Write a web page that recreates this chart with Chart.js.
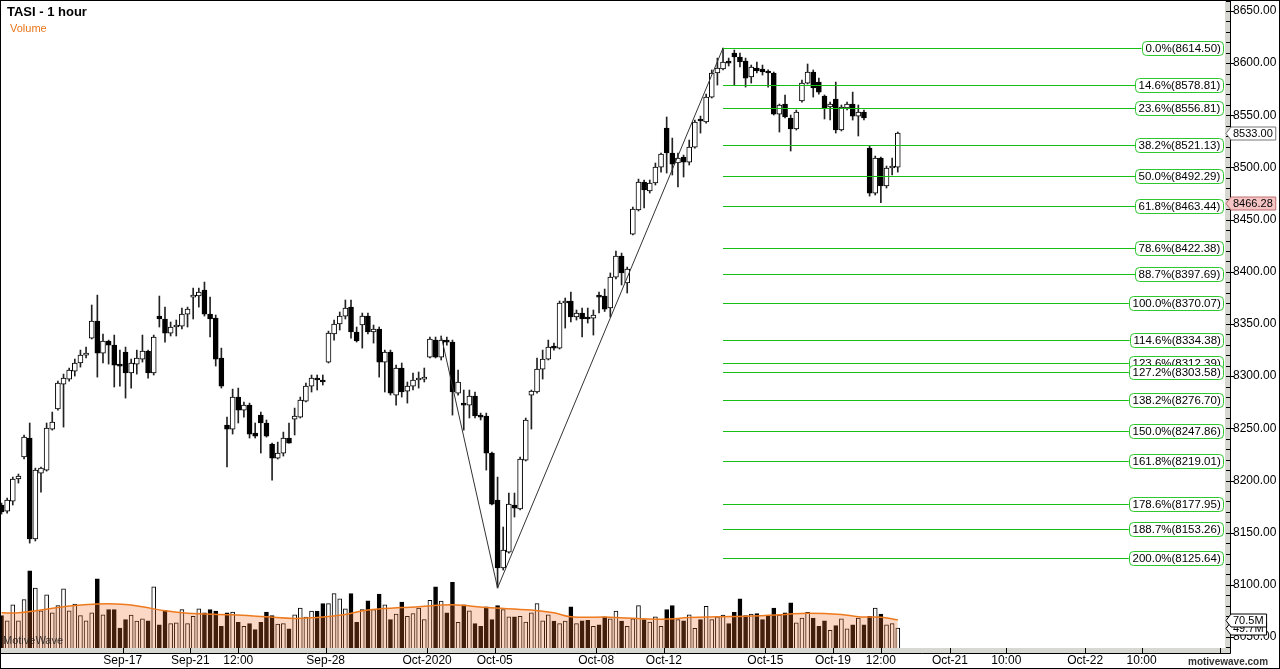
<!DOCTYPE html>
<html>
<head>
<meta charset="utf-8">
<title>TASI - 1 hour</title>
<script src="https://cdn.jsdelivr.net/npm/chart.js@4.4.1/dist/chart.umd.min.js"></script>
<style>
  html, body { margin: 0; padding: 0; background: #fff; }
  canvas { display: block; }
</style>
</head>
<body>
<canvas id="tasiChart" width="1280" height="669"></canvas>
<script>
// hourly bars, Sep-13 12:00 .. Oct-20 15:00 (index = bar number)
const opens = [
  8176.5, 8170.7, 8180.3, 8201.4, 8222.5, 8240.7, 8143.9, 8207.1, 8210.0, 8249.3,
  8268.5, 8292.4, 8297.2, 8304.9, 8312.6, 8320.2, 8336.5, 8352.8, 8322.1, 8333.7,
  8329.8, 8311.6, 8323.1, 8303.0, 8311.6, 8316.4, 8324.1, 8303.0, 8357.6, 8354.8,
  8341.3, 8347.1, 8348.0, 8359.5, 8375.8, 8376.8, 8382.5, 8359.5, 8355.7, 8317.4,
  8253.1, 8249.3, 8280.0, 8267.5, 8272.3, 8245.5, 8262.7, 8255.1, 8234.9, 8221.5,
  8226.3, 8240.7, 8258.9, 8260.8, 8276.1, 8290.5, 8298.2, 8296.3, 8313.5, 8340.4,
  8350.0, 8357.6, 8366.2, 8342.3, 8349.0, 8357.6, 8342.3, 8345.2, 8313.5, 8323.1,
  8281.9, 8307.8, 8285.7, 8290.5, 8296.3, 8297.2, 8318.3, 8334.6, 8318.3, 8334.6,
  8332.7, 8283.8, 8274.2, 8272.3, 8280.9, 8261.8, 8261.8, 8226.3, 8181.3, 8116.1,
  8131.4, 8176.5, 8172.7, 8219.6, 8281.9, 8284.8, 8306.8, 8316.4, 8328.9, 8326.9,
  8370.1, 8372.0, 8356.7, 8360.5, 8355.7, 8355.7, 8376.8, 8376.8, 8365.3, 8395.0,
  8415.2, 8389.3, 8436.2, 8459.3, 8486.1, 8477.5, 8485.1, 8500.4, 8537.8, 8513.9,
  8504.3, 8510.0, 8505.2, 8519.6, 8545.5, 8543.6, 8567.5, 8590.6, 8594.4, 8602.0,
  8609.7, 8605.9, 8602.0, 8586.7, 8595.3, 8594.4, 8591.5, 8590.6, 8551.2, 8560.8,
  8547.4, 8536.9, 8563.7, 8580.9, 8591.5, 8581.9, 8568.5, 8558.0, 8565.6, 8535.9,
  8557.0, 8560.8, 8549.3, 8553.2, 8518.6, 8475.5, 8509.1, 8482.3, 8499.5, 8500.4
];
const highs = [
  8178.4, 8183.2, 8203.3, 8206.2, 8243.5, 8255.1, 8211.9, 8212.9, 8255.1, 8265.6,
  8295.3, 8302.0, 8307.8, 8316.4, 8325.0, 8327.9, 8368.2, 8377.7, 8340.4, 8334.6,
  8339.4, 8325.0, 8327.9, 8316.4, 8325.0, 8339.4, 8325.0, 8339.4, 8376.8, 8366.2,
  8351.9, 8353.8, 8365.3, 8366.2, 8384.4, 8384.4, 8390.2, 8375.8, 8358.6, 8326.9,
  8260.8, 8287.6, 8288.6, 8275.2, 8274.2, 8255.1, 8265.6, 8258.0, 8235.9, 8236.8,
  8246.4, 8255.1, 8269.4, 8280.0, 8293.4, 8301.1, 8301.1, 8301.1, 8343.2, 8353.8,
  8361.5, 8373.0, 8373.0, 8347.1, 8360.5, 8360.5, 8349.0, 8347.1, 8325.0, 8325.0,
  8310.6, 8312.6, 8294.4, 8303.0, 8304.0, 8307.8, 8337.5, 8337.5, 8338.5, 8337.5,
  8334.6, 8305.9, 8286.7, 8286.7, 8284.8, 8264.6, 8264.6, 8227.3, 8203.3, 8155.4,
  8188.0, 8188.0, 8222.5, 8259.9, 8286.7, 8317.4, 8325.0, 8334.6, 8331.7, 8372.0,
  8374.9, 8380.6, 8363.4, 8365.3, 8365.3, 8363.4, 8380.6, 8383.5, 8398.9, 8420.0,
  8418.0, 8404.6, 8462.1, 8488.9, 8488.0, 8488.0, 8504.3, 8513.9, 8548.4, 8528.2,
  8513.9, 8511.9, 8526.3, 8545.5, 8549.3, 8570.4, 8593.5, 8604.9, 8614.5, 8604.9,
  8612.6, 8609.7, 8604.9, 8598.2, 8601.1, 8598.2, 8593.5, 8591.5, 8560.8, 8569.5,
  8550.3, 8555.1, 8583.8, 8599.2, 8593.5, 8585.7, 8569.5, 8562.7, 8581.9, 8559.9,
  8562.7, 8572.3, 8559.9, 8555.1, 8520.6, 8511.0, 8510.0, 8501.4, 8509.1, 8534.0
];
const lows = [
  8167.8, 8168.8, 8176.5, 8197.5, 8220.6, 8140.0, 8142.0, 8188.9, 8209.0, 8248.3,
  8267.5, 8251.2, 8295.3, 8300.1, 8308.7, 8317.4, 8335.6, 8299.1, 8312.6, 8311.6,
  8289.6, 8290.5, 8279.0, 8288.6, 8302.0, 8313.5, 8298.2, 8301.1, 8347.1, 8332.7,
  8338.5, 8338.5, 8345.2, 8347.1, 8354.8, 8366.2, 8357.6, 8337.5, 8309.7, 8288.6,
  8212.9, 8244.5, 8255.1, 8260.8, 8240.7, 8240.7, 8226.3, 8241.6, 8200.4, 8220.6,
  8223.4, 8235.9, 8243.6, 8259.9, 8275.2, 8284.8, 8286.7, 8291.5, 8312.6, 8334.6,
  8344.2, 8354.8, 8336.5, 8332.7, 8326.9, 8340.4, 8331.7, 8299.1, 8284.8, 8281.9,
  8272.3, 8280.0, 8274.2, 8286.7, 8288.6, 8294.4, 8317.4, 8317.4, 8315.5, 8329.8,
  8262.7, 8281.9, 8248.3, 8259.9, 8259.9, 8258.0, 8210.0, 8176.5, 8097.0, 8114.2,
  8130.4, 8165.0, 8171.7, 8218.7, 8249.3, 8283.8, 8297.2, 8315.5, 8325.0, 8326.0,
  8346.1, 8351.9, 8353.8, 8337.5, 8350.9, 8339.4, 8360.5, 8362.0, 8356.7, 8393.1,
  8387.4, 8379.7, 8435.3, 8458.3, 8461.2, 8475.5, 8483.2, 8495.6, 8494.7, 8492.8,
  8481.3, 8490.9, 8502.4, 8518.6, 8533.0, 8542.6, 8566.6, 8579.0, 8593.5, 8597.3,
  8579.0, 8596.3, 8577.1, 8580.9, 8590.6, 8588.6, 8577.1, 8550.3, 8534.0, 8547.4,
  8515.8, 8535.9, 8562.7, 8580.0, 8567.5, 8570.4, 8546.5, 8545.5, 8533.0, 8535.0,
  8555.1, 8545.5, 8530.2, 8545.5, 8472.6, 8473.6, 8466.3, 8480.3, 8492.8, 8495.6
];
const closes = [
  8169.8, 8181.3, 8201.4, 8204.3, 8241.6, 8143.9, 8210.0, 8211.9, 8250.3, 8256.0,
  8293.4, 8298.2, 8305.9, 8312.6, 8320.2, 8322.1, 8352.8, 8322.1, 8333.7, 8329.8,
  8310.6, 8309.7, 8303.0, 8312.6, 8317.4, 8324.1, 8303.0, 8337.5, 8354.8, 8341.3,
  8347.1, 8349.0, 8359.5, 8364.3, 8377.7, 8380.6, 8359.5, 8354.8, 8316.4, 8290.5,
  8249.3, 8280.0, 8267.5, 8272.3, 8244.5, 8242.6, 8255.1, 8242.6, 8221.5, 8226.3,
  8240.7, 8235.9, 8261.8, 8277.1, 8290.5, 8298.2, 8296.3, 8294.4, 8341.3, 8350.0,
  8357.6, 8365.3, 8342.3, 8333.7, 8357.6, 8342.3, 8345.2, 8313.5, 8323.1, 8283.8,
  8307.8, 8284.8, 8290.5, 8296.3, 8298.2, 8299.1, 8335.6, 8318.3, 8334.6, 8332.7,
  8284.8, 8294.4, 8272.3, 8280.9, 8261.8, 8260.8, 8226.3, 8177.4, 8116.1, 8133.3,
  8177.4, 8173.6, 8220.6, 8258.0, 8285.7, 8306.8, 8316.4, 8327.9, 8326.9, 8370.1,
  8372.0, 8356.7, 8360.5, 8354.8, 8354.8, 8358.6, 8375.8, 8364.3, 8395.0, 8415.2,
  8398.9, 8402.7, 8460.2, 8486.1, 8478.4, 8485.1, 8500.4, 8512.9, 8513.9, 8503.3,
  8509.1, 8505.2, 8519.6, 8543.6, 8544.6, 8567.5, 8590.6, 8595.3, 8601.1, 8600.1,
  8605.9, 8601.1, 8585.7, 8596.3, 8592.5, 8591.5, 8590.6, 8551.2, 8559.9, 8548.4,
  8536.9, 8553.2, 8580.9, 8591.5, 8576.2, 8572.3, 8557.0, 8560.8, 8535.9, 8558.0,
  8560.8, 8549.3, 8553.2, 8547.4, 8475.5, 8509.1, 8482.3, 8499.5, 8500.4, 8533.0
];
// volume, millions of shares
const volumes = [
  81, 68, 108, 68, 121, 193, 150, 93, 133, 88,
  106, 148, 93, 110, 81, 68, 88, 173, 83, 96,
  96, 50, 71, 82, 67, 73, 68, 153, 58, 94,
  61, 63, 96, 61, 79, 98, 88, 96, 92, 54,
  88, 90, 64, 54, 61, 46, 64, 90, 81, 60,
  61, 48, 83, 100, 77, 92, 92, 111, 111, 136,
  123, 98, 136, 64, 96, 118, 96, 135, 108, 71,
  85, 115, 79, 86, 100, 71, 119, 153, 117, 88,
  164, 64, 108, 93, 61, 54, 103, 71, 106, 96,
  78, 78, 79, 65, 88, 111, 68, 83, 67, 61,
  67, 103, 61, 68, 69, 54, 58, 78, 73, 92,
  67, 54, 73, 106, 71, 65, 78, 54, 96, 106,
  71, 68, 83, 49, 71, 104, 71, 78, 82, 61,
  89, 123, 81, 85, 86, 71, 79, 100, 82, 88,
  113, 63, 75, 89, 75, 54, 68, 44, 56, 73,
  48, 58, 75, 58, 79, 100, 85, 58, 61, 49.7
];
// volume moving average, read at sample bars
const maBars = [0, 3, 7, 12, 17, 22, 25, 29, 33, 41, 47, 52, 56, 61, 65, 71, 74, 80, 86, 94, 98, 101, 108, 117, 122, 127, 133, 139, 143, 149, 152, 156, 159];
const maValues = [88, 88, 95, 105, 110, 109, 103, 93, 87, 83, 78, 74, 76, 84, 95, 101, 103, 108, 101, 95, 88, 78, 77, 72, 76, 78, 80, 84, 87, 84, 78, 77, 70.5];

// time axis labels (bar positions, future area continues hourly)
const xTickBars = [21.5, 33.5, 42, 57.5, 75.5, 87.5, 105.5, 117.5, 135.5, 147.5, 156, 168.25, 178.25, 192.25, 202.25, 216.25];
const xTickLabels = ['Sep-17', 'Sep-21', '12:00', 'Sep-28', 'Oct-2020', 'Oct-05', 'Oct-08', 'Oct-12', 'Oct-15', 'Oct-19', '12:00', 'Oct-21', '10:00', 'Oct-22', '10:00', ''];
const priceTicks = [8050, 8100, 8150, 8200, 8250, 8300, 8350, 8400, 8450, 8500, 8550, 8600, 8650];

// fibonacci levels
const fibPct = [0.0, 14.6, 23.6, 38.2, 50.0, 61.8, 78.6, 88.7, 100.0, 114.6, 123.6, 127.2, 138.2, 150.0, 161.8, 178.6, 188.7, 200.0];
const fibPrice = [8614.50, 8578.81, 8556.81, 8521.13, 8492.29, 8463.44, 8422.38, 8397.69, 8370.07, 8334.38, 8312.39, 8303.58, 8276.70, 8247.86, 8219.01, 8177.95, 8153.26, 8125.64];
const fibStartBar = 128;

const zigzagBars = [78, 88, 128];
const zigzagPrices = [8338.5, 8097.0, 8614.5];

const lastClose = 8533.00;
const markPrice = 8466.28;
const volMA = 70.5;
const lastVol = 49.7;

const up = closes.map((c, i) => c >= opens[i]);

Chart.defaults.font.family = '"Liberation Sans", Arial, sans-serif';

function roundBox(ctx, x, y, w, h, r) {
    ctx.beginPath();
    ctx.moveTo(x + r, y);
    ctx.arcTo(x + w, y, x + w, y + h, r);
    ctx.arcTo(x + w, y + h, x, y + h, r);
    ctx.arcTo(x, y + h, x, y, r);
    ctx.arcTo(x, y, x + w, y, r);
    ctx.closePath();
}

function axisMarker(ctx, left, py, text, fill, stroke) {
    ctx.font = '11px "Liberation Sans"';
    const w = ctx.measureText(text).width + 5;
    const bx = left + 6;
    ctx.beginPath();
    ctx.moveTo(left + 1, py);
    ctx.lineTo(bx, py - 6.5);
    ctx.lineTo(bx + w, py - 6.5);
    ctx.lineTo(bx + w, py + 6.5);
    ctx.lineTo(bx, py + 6.5);
    ctx.closePath();
    ctx.fillStyle = fill;
    ctx.fill();
    ctx.strokeStyle = stroke;
    ctx.lineWidth = 1;
    ctx.stroke();
    ctx.fillStyle = '#000';
    ctx.textAlign = 'left';
    ctx.textBaseline = 'middle';
    ctx.fillText(text, bx + 2, py + 0.5);
}

const extras = {
    id: 'extras',
    afterDraw(chart) {
        const { ctx, chartArea: a } = chart;
        const x = chart.scales.x, y = chart.scales.y, yv = chart.scales.yv;
        ctx.save();

        // fibonacci lines and tags
        ctx.font = '11.5px "Liberation Sans"';
        const x1 = x.getPixelForValue(fibStartBar);
        fibPrice.forEach((p, k) => {
            const py = Math.round(y.getPixelForValue(p)) + 0.5;
            const text = fibPct[k].toFixed(1) + '%(' + p.toFixed(2) + ')';
            const w = ctx.measureText(text).width + 6;
            const bx = a.right - 2 - w;
            ctx.strokeStyle = '#14c014';
            ctx.lineWidth = 1;
            ctx.beginPath();
            ctx.moveTo(x1, py);
            ctx.lineTo(bx, py);
            ctx.stroke();
            roundBox(ctx, Math.round(bx) + 0.5, py - 7, Math.round(w), 14, 4);
            ctx.fillStyle = '#fff';
            ctx.fill();
            ctx.strokeStyle = '#2ec82e';
            ctx.stroke();
            ctx.fillStyle = '#000';
            ctx.textBaseline = 'middle';
            ctx.textAlign = 'left';
            ctx.fillText(text, Math.round(bx) + 3.5, py + 0.5);
        });

        // axis bands and tick marks
        ctx.fillStyle = '#d8d8d2';
        ctx.fillRect(a.right, 0, 5, a.bottom + 5);
        ctx.fillRect(0, a.bottom, a.right + 5, 5);
        ctx.strokeStyle = '#000';
        ctx.lineWidth = 1;
        ctx.beginPath();
        ctx.moveTo(0, a.bottom + 5.5);
        ctx.lineTo(a.right + 5.5, a.bottom + 5.5);
        ctx.lineTo(a.right + 5.5, 0);
        for (let v = 8040; v <= 8660; v += 10) {
            const py = Math.round(y.getPixelForValue(v)) + 0.5;
            const len = v % 50 === 0 ? 8 : 5;
            ctx.moveTo(a.right + 1, py);
            ctx.lineTo(a.right + 1 + len, py);
        }
        xTickBars.forEach(b => {
            const px = Math.round(x.getPixelForValue(b)) + 0.5;
            ctx.moveTo(px, a.bottom);
            ctx.lineTo(px, a.bottom + 5);
        });
        ctx.stroke();

        // price / volume tags on the axis
        axisMarker(ctx, a.right, Math.round(y.getPixelForValue(lastClose)) + 0.5, lastClose.toFixed(2), '#fff', '#777');
        axisMarker(ctx, a.right, Math.round(y.getPixelForValue(markPrice)) + 0.5, markPrice.toFixed(2), '#f6c4c4', '#c07070');
        axisMarker(ctx, a.right, Math.round(yv.getPixelForValue(lastVol)) + 0.5, lastVol.toFixed(1) + 'M', '#fff', '#000');
        axisMarker(ctx, a.right, Math.round(yv.getPixelForValue(volMA)) + 0.5, volMA.toFixed(1) + 'M', '#fff', '#000');

        // titles
        ctx.textAlign = 'left';
        ctx.textBaseline = 'alphabetic';
        ctx.fillStyle = '#000';
        ctx.font = 'bold 13px "Liberation Sans"';
        ctx.fillText('TASI - 1 hour', 7, 16);
        ctx.fillStyle = '#e8761c';
        ctx.font = '11px "Liberation Sans"';
        ctx.fillText('Volume', 10, 32);
        ctx.fillStyle = 'rgba(30,30,30,0.85)';
        ctx.fillText('MotiveWave', 3, 644);
        ctx.fillStyle = '#333';
        ctx.font = 'bold 10px "Liberation Sans"';
        ctx.fillText('motivewave.com', 1188, 665);

        // frame
        ctx.strokeStyle = '#000';
        ctx.strokeRect(0.5, 0.5, chart.width - 1, chart.height - 1);
        ctx.restore();
    }
};

const ctx = document.getElementById('tasiChart').getContext('2d');
const tasiChart = new Chart(ctx, {
    data: {
        datasets: [
            {
                type: 'line',
                label: 'zigzag',
                data: zigzagBars.map((b, k) => ({ x: b, y: zigzagPrices[k] })),
                borderColor: '#333',
                borderWidth: 1,
                pointRadius: 0,
                yAxisID: 'y',
                order: 1
            },
            {
                type: 'bar',
                label: 'body',
                data: opens.map((o, i) => ({ x: i, y: [o, closes[i]] })),
                backgroundColor: up.map(u => u ? '#fff' : '#000'),
                borderColor: '#000',
                borderWidth: 1,
                borderSkipped: false,
                barThickness: 5,
                minBarLength: 2,
                grouped: false,
                yAxisID: 'y',
                order: 2
            },
            {
                type: 'bar',
                label: 'wick',
                data: lows.map((l, i) => ({ x: i, y: [l, highs[i]] })),
                backgroundColor: '#222',
                borderWidth: 0,
                barThickness: 1,
                grouped: false,
                yAxisID: 'y',
                order: 3
            },
            {
                type: 'line',
                label: 'Volume MA',
                data: maBars.map((b, k) => ({ x: b, y: maValues[k] })),
                borderColor: '#ee7a1e',
                borderWidth: 1.5,
                backgroundColor: 'rgba(240,110,40,0.27)',
                fill: 'origin',
                tension: 0.4,
                pointRadius: 0,
                yAxisID: 'yv',
                order: 4
            },
            {
                type: 'bar',
                label: 'Volume',
                data: volumes.map((v, i) => ({ x: i, y: v })),
                backgroundColor: up.map(u => u ? '#fff' : '#000'),
                borderColor: '#000',
                borderWidth: 1,
                barThickness: 4,
                grouped: false,
                yAxisID: 'yv',
                order: 5
            }
        ]
    },
    options: {
        responsive: false,
        maintainAspectRatio: false,
        devicePixelRatio: 1,
        animation: false,
        events: [],
        layout: { padding: 0 },
        plugins: {
            legend: { display: false },
            tooltip: { enabled: false }
        },
        scales: {
            x: {
                type: 'linear',
                min: -0.27,
                max: 217.05,
                offset: false,
                grid: { display: false, drawTicks: false },
                border: { display: false },
                afterBuildTicks: s => { s.ticks = xTickBars.map(v => ({ value: v })); },
                afterFit: s => {
                    s.height = 21;
                    s.paddingLeft = 0;
                    s.paddingRight = 0;
                },
                ticks: {
                    autoSkip: false,
                    maxRotation: 0,
                    padding: 5,
                    color: '#000',
                    font: { size: 12 },
                    callback: (v, i) => xTickLabels[i]
                }
            },
            y: {
                type: 'linear',
                position: 'right',
                min: 8039.46,
                max: 8660.54,
                grid: { display: false, drawTicks: false },
                border: { display: false },
                afterBuildTicks: s => { s.ticks = priceTicks.map(v => ({ value: v })); },
                afterFit: s => {
                    s.width = 55;
                    s.paddingTop = 0;
                    s.paddingBottom = 0;
                },
                ticks: {
                    padding: 8,
                    color: '#000',
                    font: { size: 12 },
                    callback: v => v.toFixed(2)
                }
            },
            yv: {
                type: 'linear',
                display: false,
                min: 0,
                max: 1620
            }
        }
    },
    plugins: [extras]
});
</script>
</body>
</html>
